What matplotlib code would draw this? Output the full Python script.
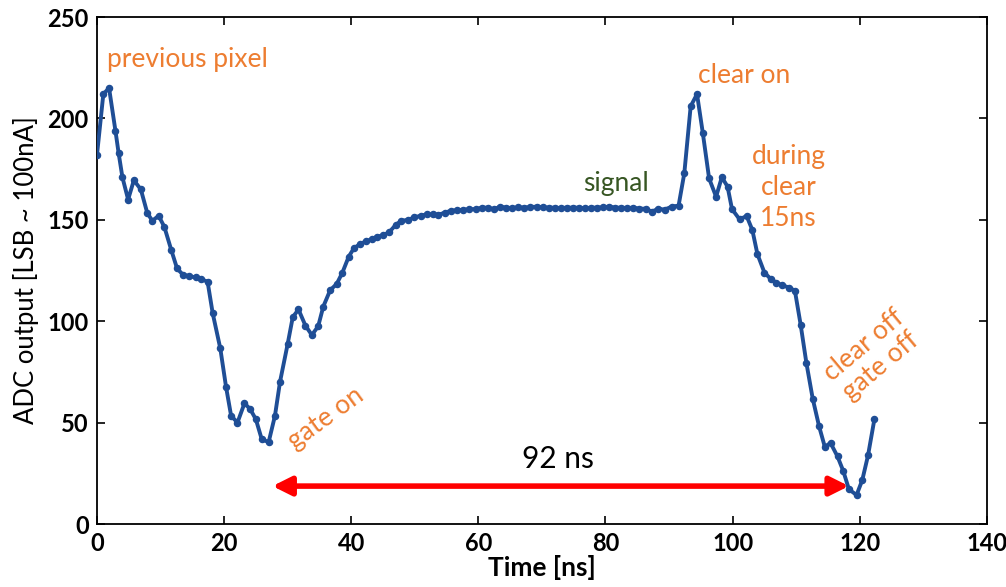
import matplotlib
matplotlib.use("Agg")
import matplotlib.pyplot as plt

plt.rcParams['font.family'] = ['Lato', 'DejaVu Sans']

# ADC samples of one pixel readout (time in ns, ADC counts)
time_ns = [
    0.0, 1.0, 1.9, 2.9, 3.4, 4.0, 4.9, 5.8, 6.9, 7.9,
    8.7, 9.7, 10.6, 11.7, 12.6, 13.5, 14.4, 15.5, 16.4, 17.4,
    18.2, 19.4, 20.3, 21.1, 22.1, 23.2, 24.1, 25.0, 25.9, 27.0,
    28.0, 28.8, 30.0, 30.8, 31.7, 32.8, 33.8, 34.8, 35.6, 36.7,
    37.7, 38.6, 39.6, 40.4, 41.4, 42.4, 43.3, 44.1, 45.0, 46.0,
    47.0, 47.9, 48.9, 49.9, 50.9, 51.9, 52.8, 53.7, 54.7, 55.7,
    56.6, 57.6, 58.6, 59.6, 60.6, 61.5, 62.5, 63.4, 64.4, 65.3,
    66.3, 67.2, 68.2, 69.2, 70.1, 71.1, 72.0, 73.0, 73.9, 74.9,
    75.8, 76.8, 77.7, 78.7, 79.6, 80.6, 81.5, 82.5, 83.4, 84.4,
    85.3, 86.3, 87.3, 88.3, 89.3, 90.4, 91.5, 92.4, 93.4, 94.4,
    95.3, 96.3, 97.4, 98.3, 99.2, 99.9, 101.1, 102.2, 103.1, 103.9,
    105.0, 106.0, 106.9, 107.8, 108.9, 109.8, 110.7, 111.6, 112.6, 113.6,
    114.5, 115.4, 116.5, 117.4, 118.3, 119.5, 120.4, 121.3, 122.3,
]
adc_counts = [
    182, 212, 215, 194, 183, 171, 160, 169.5, 165, 153.5,
    149.5, 152, 146.5, 135, 126, 123, 122.3, 121.6, 120.7, 119.5,
    104, 86.6, 67.7, 53.4, 50, 59.5, 56.7, 51.6, 42, 40.3,
    53.4, 70.2, 88.8, 102, 105.8, 97.8, 93.2, 97.5, 107.2, 115.4,
    118.3, 123.9, 131.8, 135.9, 138.1, 139.5, 140.5, 141.7, 142.3, 144.0,
    147.5, 149.6, 149.9, 151.2, 152, 152.7, 152.7, 152.5, 153.5, 154.5,
    154.7, 155, 155.2, 155.3, 156, 156, 155.2, 156.5, 156, 155.8,
    156.2, 156, 156.3, 156.5, 156.2, 156, 156, 155.8, 156, 156,
    156, 155.7, 156, 156, 156.2, 156.5, 156, 156, 155.8, 156,
    155.5, 155.5, 154, 155.5, 155, 156.5, 157, 173, 206, 212,
    193, 170.4, 161.4, 171, 166.4, 155.3, 150.2, 151.9, 145, 133.1,
    124, 120.8, 119, 117.7, 116.6, 115, 98.3, 79.5, 61.8, 48.2,
    38.1, 40, 33.3, 26.2, 17.1, 14.3, 21.7, 33.8, 51.6,
]

# integration window (gate on -> gate off)
window_start, window_end, window_level = 27.6, 118.3, 18.7
window_label = "92 ns"

orange = "#ED7D31"
green = "#375623"
blue = "#1F4E96"

fig = plt.figure(figsize=(10.06, 5.87), dpi=100)
ax = fig.add_axes([0.0964, 0.1073, 0.8846, 0.8637])

ax.plot(time_ns, adc_counts, '-o', color=blue, lw=2.8, ms=4.4, zorder=3)

ax.set_xlim(0, 140)
ax.set_ylim(0, 250)
ax.set_xticks(range(0, 141, 20))
ax.set_yticks(range(0, 251, 50))
ax.tick_params(direction='in', top=True, right=True, length=6, width=1.2,
               labelsize=17, pad=6)
for lab in ax.get_xticklabels() + ax.get_yticklabels():
    lab.set_fontweight('bold')
for sp in ax.spines.values():
    sp.set_linewidth(1.3)

ax.set_xlabel("Time [ns]", fontsize=19, fontweight='bold', labelpad=0)
ax.set_ylabel("ADC output [LSB ~ 100nA]", fontsize=18.5, labelpad=6)

# annotations
fs = 19
ax.text(1.5, 229, "previous pixel", color=orange, fontsize=fs, va='center')
ax.text(94.5, 221, "clear on", color=orange, fontsize=fs, va='center')
ax.text(76.5, 168, "signal", color=green, fontsize=fs, va='center')
ax.text(108.8, 166, "during\nclear\n15ns", color=orange, fontsize=fs,
        ha='center', va='center', linespacing=1.3)
ax.text(36.0, 52, "gate on", color=orange, fontsize=fs, rotation=36,
        ha='center', va='center')
ax.text(122.0, 83, "clear off\ngate off", color=orange, fontsize=fs, rotation=40,
        ha='center', va='center', linespacing=1.1)

ax.annotate("", xy=(window_start, window_level), xytext=(window_end, window_level),
            arrowprops=dict(arrowstyle='<|-|>', color='red', lw=4,
                            mutation_scale=28, shrinkA=0, shrinkB=0),
            zorder=2)
ax.text(72.5, 32, window_label, fontsize=21.5, ha='center', va='center')

fig.savefig("out.png", dpi=100)
